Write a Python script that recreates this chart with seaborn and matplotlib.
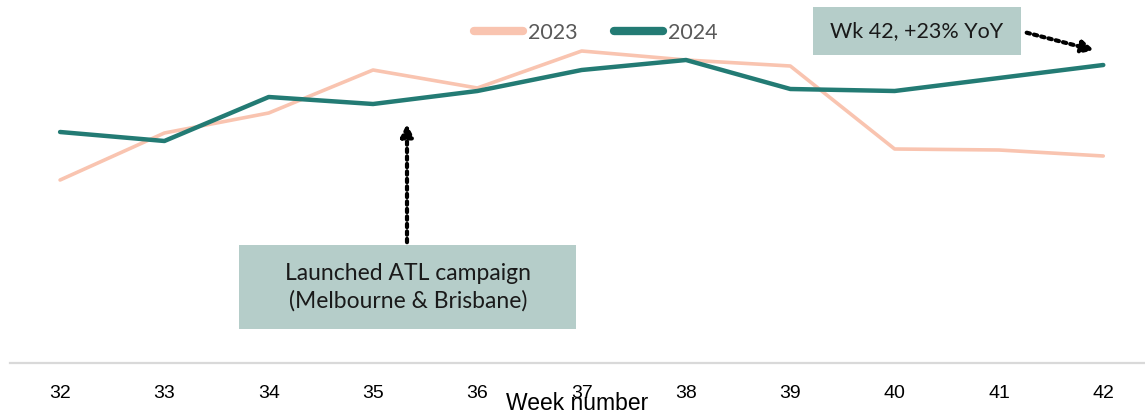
import pandas as pd
import matplotlib.pyplot as plt
import seaborn as sns
from matplotlib.patches import Rectangle
from matplotlib.lines import Line2D

# data (index units, arbitrary scale)
weeks = [32, 33, 34, 35, 36, 37, 38, 39, 40, 41, 42]
sales_2023 = [372, 419, 439, 482, 464, 501, 492, 486, 403, 402, 396]
sales_2024 = [420, 411, 455, 448, 461, 482, 492, 463, 461, 474, 487]
series_names = ["2023", "2024"]

W, H = 1145, 413


def px(x, y):
    # pixel (from top-left) -> figure fraction
    return x / W, 1 - y / H


def main():
    sns.set_theme(style="white")
    plt.rcParams['font.family'] = ['Lato', 'DejaVu Sans']

    df = pd.DataFrame({
        'week': weeks * 2,
        'value': sales_2023 + sales_2024,
        'year': [series_names[0]] * len(weeks) + [series_names[1]] * len(weeks),
    })

    fig = plt.figure(figsize=(W / 100, H / 100), dpi=100)
    ax = fig.add_axes([10 / W, 50 / H, 1 - 10 / W, 1 - 50 / H])

    sns.lineplot(data=df, x='week', y='value', hue='year',
                 palette={'2023': '#F9C4B0', '2024': '#237B74'},
                 ax=ax, legend=False)
    ax.lines[0].set_linewidth(2.6)
    ax.lines[1].set_linewidth(3.2)
    ax.lines[0].set_solid_capstyle('round')
    ax.lines[1].set_solid_capstyle('round')

    # no y axis, light grey baseline only
    ax.set_xlim(31.52, 42.40)
    ax.set_ylim(552 - 363, 552)
    ax.set_yticks([])
    ax.set_ylabel('')
    for s in ['top', 'right', 'left']:
        ax.spines[s].set_visible(False)
    ax.spines['bottom'].set_color('#D9D9D9')
    ax.spines['bottom'].set_linewidth(1.6)

    ax.set_xticks(weeks)
    ax.set_xticklabels([str(w) for w in weeks], family='Liberation Sans',
                       fontsize=14, color='black')
    ax.tick_params(axis='x', length=0, pad=16)
    ax.set_xlabel('Week number', family='Liberation Sans', fontsize=16.5, color='black')
    ax.xaxis.set_label_coords(0.5, -(403 - 363) / 363)
    ax.xaxis.label.set_va('center')

    # legend
    handles = [Line2D([], [], color='#F9C4B0', lw=6, solid_capstyle='round'),
               Line2D([], [], color='#237B74', lw=6, solid_capstyle='round')]
    ax.legend(handles, series_names, loc='center', ncol=2,
              bbox_to_anchor=(0.516, 1 - 33 / 363), frameon=False,
              fontsize=15.5, handlelength=2.3, handletextpad=0.2,
              columnspacing=1.7, labelcolor='#595959')

    # annotation boxes
    box_color = '#B5CDC9'
    x0, y0 = px(239, 329)
    x1, y1 = px(576, 245)
    fig.patches.append(Rectangle((x0, y0), x1 - x0, y1 - y0, transform=fig.transFigure,
                                 facecolor=box_color, edgecolor='none', zorder=0))
    tx, ty = px(408, 287)
    fig.text(tx, ty, 'Launched ATL campaign\n(Melbourne & Brisbane)', ha='center', va='center',
             fontsize=16.5, color='#1a1a1a', linespacing=1.35)

    x0, y0 = px(813, 55)
    x1, y1 = px(1021, 7)
    fig.patches.append(Rectangle((x0, y0), x1 - x0, y1 - y0, transform=fig.transFigure,
                                 facecolor=box_color, edgecolor='none', zorder=0))
    tx, ty = px(917, 31)
    fig.text(tx, ty, 'Wk 42, +23% YoY', ha='center', va='center',
             fontsize=15.5, color='#1a1a1a')

    # dotted arrows
    ax.annotate('', xy=px(407, 121), xytext=px(407, 245),
                xycoords='figure fraction', textcoords='figure fraction',
                arrowprops=dict(arrowstyle='-|>,head_length=0.6,head_width=0.3',
                                linestyle=(0, (0.8, 1.0)), lw=3, color='black'))
    ax.annotate('', xy=px(1097, 51), xytext=px(1024, 32),
                xycoords='figure fraction', textcoords='figure fraction',
                arrowprops=dict(arrowstyle='-|>,head_length=0.6,head_width=0.3',
                                linestyle=(0, (0.8, 1.0)), lw=3, color='black'))

    fig.savefig('out.png', dpi=100)
    plt.close(fig)


if __name__ == "__main__":
    main()
